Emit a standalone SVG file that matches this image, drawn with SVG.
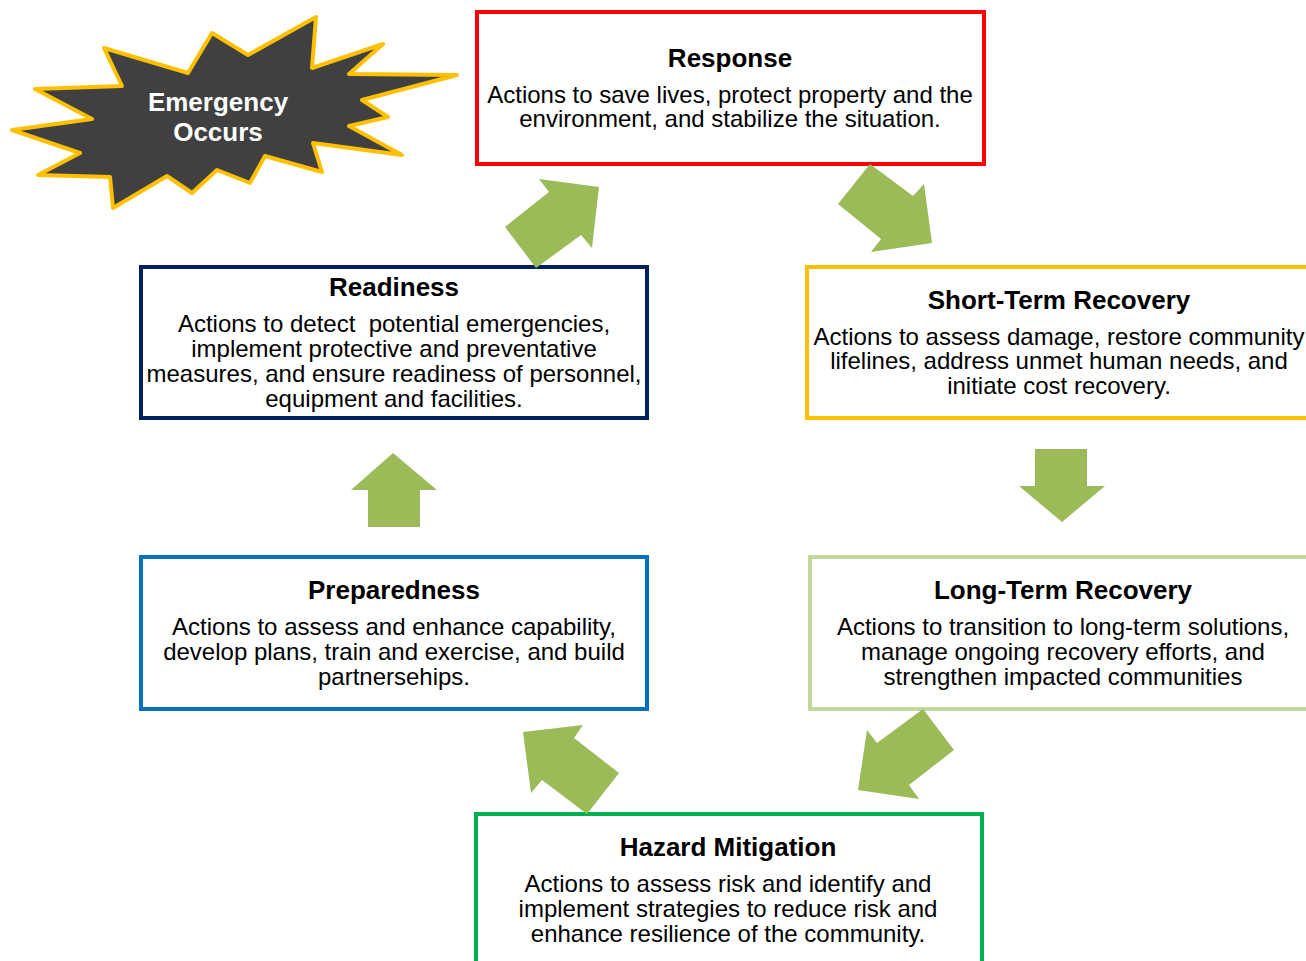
<svg xmlns="http://www.w3.org/2000/svg" width="1306" height="961" viewBox="0 0 1306 961">
<style>
.box{fill:#fff;stroke-width:4}
.t{font-family:"Liberation Sans",Arial,sans-serif;font-weight:bold;font-size:26px;text-anchor:middle;fill:#000}
.b{font-family:"Liberation Sans",Arial,sans-serif;font-size:24px;text-anchor:middle;fill:#000;white-space:pre}
.arr{fill:#9BBB59}
</style>
<rect width="1306" height="961" fill="#fff"/>
<g id="emergency">
<polygon points="104,48 188,73 212,33 248,55 316,17 312,68 383,44 349,74 457,75 362,100 388,117 349,126 402,155 313,143 322,172 265,156 250,183 217,170 192,193 167,176 113,208 110,177 38,175 80,153 12,130 92,119 35,89 122,86" fill="#404040" stroke="#FFC000" stroke-width="4" stroke-linejoin="round"/>
<text class="t" x="218" y="111" fill="#fff" style="fill:#fff">Emergency</text>
<text class="t" x="218" y="141" style="fill:#fff">Occurs</text>
</g>
<g id="response">
<rect class="box" x="477" y="12" width="507" height="152" stroke="#FF0000"/>
<text class="t" x="730" y="67">Response</text>
<text class="b" x="730" y="103">Actions to save lives, protect property and the</text>
<text class="b" x="730" y="127">environment, and stabilize the situation.</text>
</g>
<g id="readiness">
<rect class="box" x="141" y="267" width="506" height="151" stroke="#002060"/>
<text class="t" x="394" y="296">Readiness</text>
<text class="b" x="394" y="332">Actions to detect  potential emergencies,</text>
<text class="b" x="394" y="357">implement protective and preventative</text>
<text class="b" x="394" y="382">measures, and ensure readiness of personnel,</text>
<text class="b" x="394" y="407">equipment and facilities.</text>
</g>
<g id="short-term">
<rect class="box" x="807" y="267" width="520" height="151" stroke="#FFC000"/>
<text class="t" x="1059" y="309">Short-Term Recovery</text>
<text class="b" x="1059" y="345">Actions to assess damage, restore community</text>
<text class="b" x="1059" y="369">lifelines, address unmet human needs, and</text>
<text class="b" x="1059" y="394">initiate cost recovery.</text>
</g>
<g id="preparedness">
<rect class="box" x="141" y="557" width="506" height="152" stroke="#0070C0"/>
<text class="t" x="394" y="599">Preparedness</text>
<text class="b" x="394" y="635">Actions to assess and enhance capability,</text>
<text class="b" x="394" y="660">develop plans, train and exercise, and build</text>
<text class="b" x="394" y="685">partnersehips.</text>
</g>
<g id="long-term">
<rect class="box" x="810" y="557" width="520" height="152" stroke="#C3D69B"/>
<text class="t" x="1063" y="599">Long-Term Recovery</text>
<text class="b" x="1063" y="635">Actions to transition to long-term solutions,</text>
<text class="b" x="1063" y="660">manage ongoing recovery efforts, and</text>
<text class="b" x="1063" y="685">strengthen impacted communities</text>
</g>
<g id="hazard-mitigation">
<rect class="box" x="476" y="814" width="506" height="160" stroke="#00B050"/>
<text class="t" x="728" y="856">Hazard Mitigation</text>
<text class="b" x="728" y="892">Actions to assess risk and identify and</text>
<text class="b" x="728" y="917">implement strategies to reduce risk and</text>
<text class="b" x="728" y="942">enhance resilience of the community.</text>
</g>
<g id="connectors">
<polygon class="arr" points="505,227 549,192 539,179 599,187 592,248 581,235 536,268"/>
<polygon class="arr" points="870,164 913,196 924,184 932,243 871,252 881,239 838,204"/>
<polygon class="arr" points="393,453 437,490 420,490 420,527 368,527 368,490 351,490"/>
<polygon class="arr" points="1035,449 1087,449 1087,486 1105,486 1062,522 1019,486 1035,486"/>
<polygon class="arr" points="523,732 583,725 574,738 619,773 587,814 542,780 531,793"/>
<polygon class="arr" points="923,709 954,750 909,785 919,799 858,790 867,730 877,743"/>
</g>
</svg>
